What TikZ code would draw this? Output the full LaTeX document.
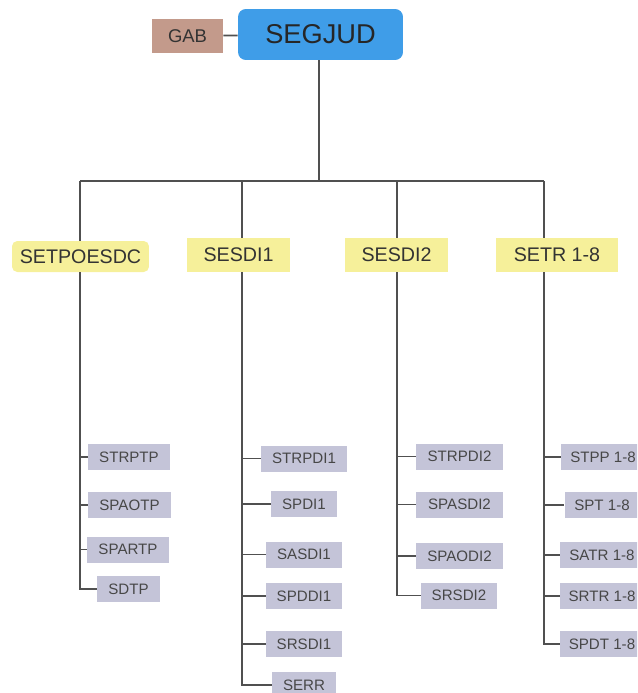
\documentclass[tikz,border=0pt]{standalone}
\usepackage{fontspec}
\setmainfont{Liberation Sans}
\definecolor{segblue}{HTML}{3F9DE8}
\definecolor{gabbrown}{HTML}{C39A8B}
\definecolor{unityellow}{HTML}{F6F09A}
\definecolor{leafgrey}{HTML}{C4C4D8}
\definecolor{linegrey}{HTML}{505050}
\begin{document}
\begin{tikzpicture}[x=0.02cm,y=-0.02cm,
  head/.style={fill=segblue, rounded corners=4.5pt, inner sep=0pt, text=black!85,
               font=\fontsize{15.5}{18}\selectfont},
  gabbox/.style={fill=gabbrown, inner sep=0pt, text=black!80,
                 font=\fontsize{10.5}{12}\selectfont},
  unit/.style={fill=unityellow, inner sep=0pt, minimum height=0.68cm, text=black!80,
               font=\fontsize{11.2}{13}\selectfont},
  leaf/.style={fill=leafgrey, inner sep=0pt, minimum height=0.52cm, minimum width=#1,
               text=black!72, font=\fontsize{8.6}{10}\selectfont},
  leaf/.default=1.52cm,
  conn/.style={draw=linegrey, line width=1pt}]
  \useasboundingbox (0,0) rectangle (637,693);
  \clip (0,0) rectangle (637,693);

  \node[head, minimum width=3.3cm, minimum height=1.02cm](segjud) at (320.5,34.5) {SEGJUD};
  \node[gabbox, minimum width=1.42cm, minimum height=0.68cm](gab) at (187.5,36) {GAB};

  \node[unit, rounded corners=3pt, minimum width=2.74cm, minimum height=0.62cm](setpoesdc) at (80.5,256.5) {SETPOESDC};
  \node[unit, minimum width=2.06cm](sesdi1) at (238.5,255) {SESDI1};
  \node[unit, minimum width=2.06cm](sesdi2) at (396.5,255) {SESDI2};
  \node[unit, minimum width=2.44cm](setr)   at (557,255)   {SETR 1-8};

  \node[leaf=1.64cm](strptp) at (129,457)   {STRPTP};
  \node[leaf=1.66cm](spaotp) at (129.5,505) {SPAOTP};
  \node[leaf=1.64cm](spartp) at (128,549.5) {SPARTP};
  \node[leaf=1.26cm](sdtp)   at (128.5,589) {SDTP};

  \node[leaf=1.72cm](strpdi1) at (304,458.5) {STRPDI1};
  \node[leaf=1.32cm](spdi1)   at (304,504)   {SPDI1};
  \node[leaf](sasdi1)         at (304,554.5) {SASDI1};
  \node[leaf](spddi1)         at (304,596)   {SPDDI1};
  \node[leaf](srsdi1)         at (304,644)   {SRSDI1};
  \node[leaf=1.28cm](serr)    at (304,685)   {SERR};

  \node[leaf=1.74cm](strpdi2) at (459.5,456.5) {STRPDI2};
  \node[leaf=1.74cm](spasdi2) at (459.5,504.5) {SPASDI2};
  \node[leaf=1.74cm](spaodi2) at (459.5,556)   {SPAODI2};
  \node[leaf](srsdi2)         at (459,595.5)   {SRSDI2};

  \node[leaf=1.68cm](stpp) at (603,457) {STPP 1-8};
  \node[leaf=1.5cm](spt)   at (602,505) {SPT 1-8};
  \node[leaf=1.68cm](satr) at (602,555) {SATR 1-8};
  \node[leaf=1.68cm](srtr) at (602,596) {SRTR 1-8};
  \node[leaf=1.68cm](spdt) at (602,644) {SPDT 1-8};

  \coordinate (hub) at (319,181);
  \coordinate (c1) at (80,181);
  \coordinate (c2) at (242,181);
  \coordinate (c3) at (397,181);
  \coordinate (c4) at (544,181);

  \draw[conn] (gab) -- (segjud);
  \draw[conn] (hub |- segjud.south) -- (hub);
  \draw[conn] (c1) -- (c4);
  \draw[conn] (c1) -- (c1 |- setpoesdc.north);
  \draw[conn] (c2) -- (c2 |- sesdi1.north);
  \draw[conn] (c3) -- (c3 |- sesdi2.north);
  \draw[conn] (c4) -- (c4 |- setr.north);

  \foreach \leafname in {strptp,spaotp,spartp,sdtp}
    \draw[conn] (c1 |- setpoesdc.south) |- (\leafname.west);
  \foreach \leafname in {strpdi1,spdi1,sasdi1,spddi1,srsdi1,serr}
    \draw[conn] (c2 |- sesdi1.south) |- (\leafname.west);
  \foreach \leafname in {strpdi2,spasdi2,spaodi2,srsdi2}
    \draw[conn] (c3 |- sesdi2.south) |- (\leafname.west);
  \foreach \leafname in {stpp,spt,satr,srtr,spdt}
    \draw[conn] (c4 |- setr.south) |- (\leafname.west);
\end{tikzpicture}
\end{document}
